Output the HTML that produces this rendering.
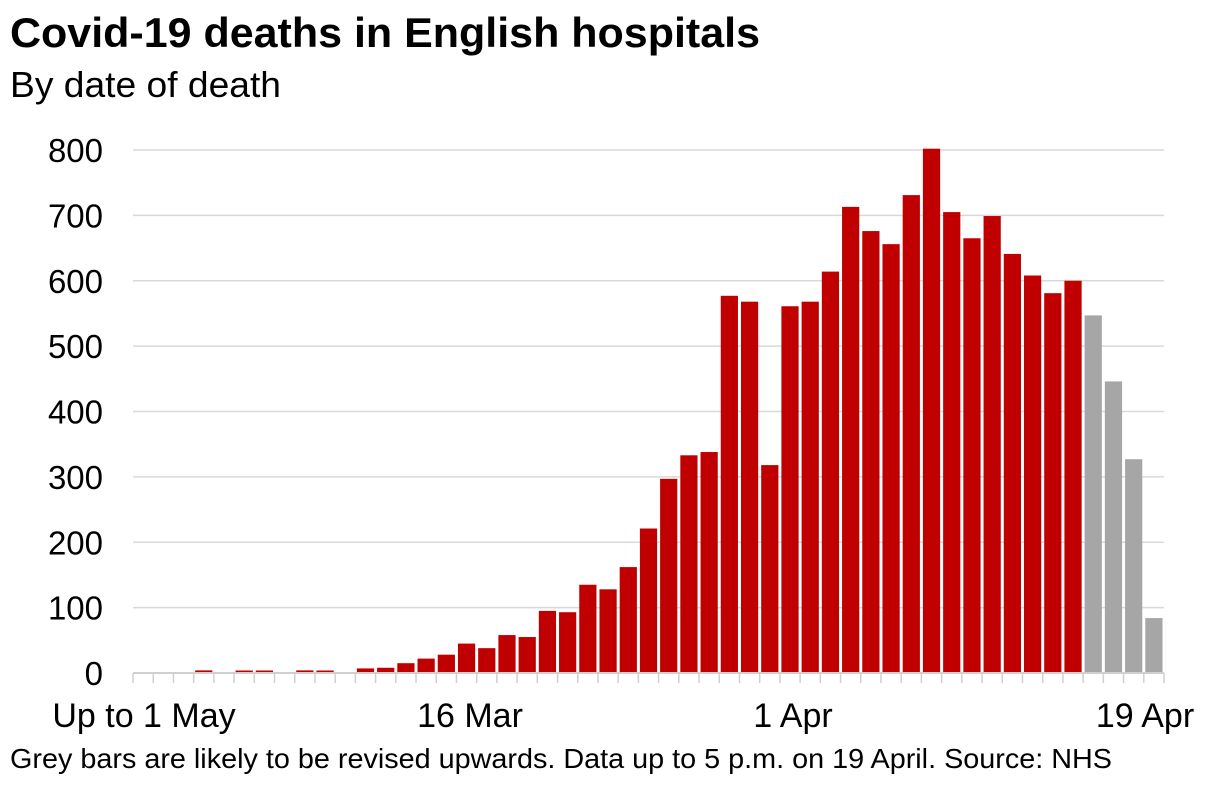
<!DOCTYPE html>
<html><head><meta charset="utf-8"><style>
body{margin:0;background:#fff;font-family:"Liberation Sans",Arial,sans-serif;}
</style></head><body>
<svg width="1220" height="783" xmlns="http://www.w3.org/2000/svg" font-family="Liberation Sans, Arial, sans-serif">
<rect width="1220" height="783" fill="#fff"/>
<text x="10" y="47" font-size="42" font-weight="bold" fill="#000" textLength="750" lengthAdjust="spacingAndGlyphs">Covid-19 deaths in English hospitals</text>
<text x="10" y="97" font-size="36" fill="#000" textLength="271" lengthAdjust="spacingAndGlyphs">By date of death</text>
<g id="grid" stroke="#d9d9d9" stroke-width="1.5"></g>
<g id="ylab" font-size="33" text-anchor="end" fill="#000"></g>
<g id="bars"></g>
<line x1="133" y1="673" x2="1164" y2="673" stroke="#d0d0d0" stroke-width="2"/>
<g id="ticks" stroke="#d0d0d0" stroke-width="1.5"></g>
<g font-size="34" fill="#000" text-anchor="middle">
<text x="144" y="727">Up to 1 May</text>
<text x="470" y="727">16 Mar</text>
<text x="793" y="727">1 Apr</text>
<text x="1145" y="727">19 Apr</text>
</g>
<text x="10" y="768" font-size="28" fill="#000" textLength="1102" lengthAdjust="spacingAndGlyphs">Grey bars are likely to be revised upwards. Data up to 5 p.m. on 19 April. Source: NHS</text>
</svg>
<script>
var ns="http://www.w3.org/2000/svg";
function el(p,t,a){var e=document.createElementNS(ns,t);for(var k in a)e.setAttribute(k,a[k]);document.getElementById(p).appendChild(e);return e;}
var y0=673,k=523/800;
for(var v=100;v<=800;v+=100){var y=y0-v*k;el("grid","line",{x1:133,y1:y,x2:1164,y2:y});}
for(var v=0;v<=800;v+=100){var t=el("ylab","text",{x:103,y:y0-v*k+12});t.textContent=v;}
var d=[0,0,0,4,0,3,2,0,4,2,0,7,8,15,22,28,45,38,58,55,95,93,135,128,162,221,297,333,338,577,568,318,561,568,614,713,676,656,731,802,705,665,699,641,608,581,600,547,446,327,84];
var w=(1164-133)/51;
for(var i=0;i<d.length;i++){
 var x=133+i*w;
 el("ticks","line",{x1:x,y1:673,x2:x,y2:683});
 if(d[i]>0){var h=Math.max(d[i]*k,2.5);el("bars","rect",{x:x+1.5,y:y0-h,width:w-3,height:h,fill:i>=47?"#a6a6a6":"#c00000"});}
}
el("ticks","line",{x1:1164,y1:673,x2:1164,y2:683});
</script>
</body></html>
